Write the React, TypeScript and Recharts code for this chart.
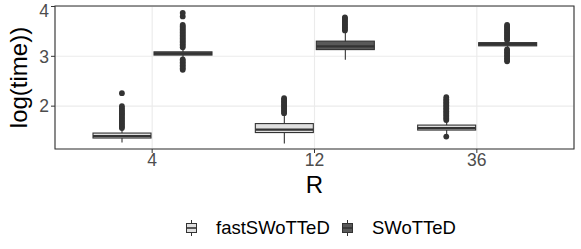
import {
  ComposedChart,
  Bar,
  Scatter,
  XAxis,
  YAxis,
  CartesianGrid,
  ReferenceArea,
  Legend,
} from "recharts";

const categories = ["4", "12", "36"];
const seriesNames = ["fastSWoTTeD", "SWoTTeD"];
const yTicks = [2, 3, 4];

// box statistics per R
const fastLow = [1.27, 1.25, 1.44];
const fastQ1 = [1.36, 1.47, 1.52];
const fastMedian = [1.4, 1.53, 1.56];
const fastQ3 = [1.46, 1.65, 1.62];
const fastHigh = [1.52, 1.83, 1.7];

const swotLow = [2.96, 2.93, 3.17];
const swotQ1 = [3.025, 3.135, 3.21];
const swotMedian = [3.055, 3.2, 3.245];
const swotQ3 = [3.09, 3.305, 3.275];
const swotHigh = [3.15, 3.5, 3.31];

// outliers per R
const fastOutliers = [
  [1.56, 1.59, 1.62, 1.65, 1.68, 1.71, 1.74, 1.77, 1.8, 1.83, 1.86, 1.89, 1.92, 1.96, 2.0, 2.26],
  [1.86, 1.89, 1.92, 1.95, 1.98, 2.01, 2.04, 2.07, 2.1, 2.13, 2.16],
  [1.39, 1.72, 1.75, 1.78, 1.81, 1.84, 1.87, 1.9, 1.93, 1.96, 1.99, 2.02, 2.05, 2.08, 2.11, 2.14, 2.18],
];
const swotOutliers = [
  [2.73, 2.76, 2.79, 2.82, 2.85, 2.88, 2.91, 2.94, 3.18, 3.21, 3.24, 3.27, 3.3, 3.33, 3.36, 3.39, 3.42, 3.45, 3.48, 3.51, 3.54, 3.57, 3.6, 3.63, 3.8, 3.87],
  [3.52, 3.55, 3.58, 3.61, 3.64, 3.67, 3.7, 3.73, 3.76, 3.78],
  [2.9, 2.93, 2.96, 2.99, 3.02, 3.05, 3.08, 3.11, 3.14, 3.33, 3.36, 3.39, 3.42, 3.45, 3.48, 3.51, 3.54, 3.57, 3.6, 3.63],
];

const FAST_FILL = "#E0E0E0";
const SWOT_FILL = "#595959";
const INK = "#333333";
const DODGE = 0.1875;
const Y_DOMAIN = [1.14, 4.01];

const table = categories.map((c, i) => ({
  cat: c,
  fastRange: [fastLow[i], fastHigh[i]],
  swotRange: [swotLow[i], swotHigh[i]],
  fast: { low: fastLow[i], q1: fastQ1[i], median: fastMedian[i], q3: fastQ3[i], high: fastHigh[i] },
  swot: { low: swotLow[i], q1: swotQ1[i], median: swotMedian[i], q3: swotQ3[i], high: swotHigh[i] },
}));

const outlierPoints = categories.flatMap((_, i) => [
  ...fastOutliers[i].map((v) => ({ x: i + 1 - DODGE, y: v })),
  ...swotOutliers[i].map((v) => ({ x: i + 1 + DODGE, y: v })),
]);

// the bar rect spans the whiskers; the rest is placed on the same linear scale
const BoxGlyph = (props: any) => {
  const { x, y, width, height, stats, fill } = props;
  if (!stats) return null;
  const top = Math.min(y, y + height);
  const bottom = Math.max(y, y + height);
  const toPx = (v: number) => bottom - ((v - stats.low) / (stats.high - stats.low)) * (bottom - top);
  const cx = x + width / 2;
  return (
    <g>
      <line x1={cx} x2={cx} y1={toPx(stats.high)} y2={toPx(stats.low)} stroke={INK} strokeWidth={1.1} />
      <rect
        x={x}
        y={toPx(stats.q3)}
        width={width}
        height={toPx(stats.q1) - toPx(stats.q3)}
        fill={fill}
        stroke={INK}
        strokeWidth={1.1}
      />
      <line x1={x} x2={x + width} y1={toPx(stats.median)} y2={toPx(stats.median)} stroke={INK} strokeWidth={2.2} />
    </g>
  );
};

const OutlierDot = (props: any) => <circle cx={props.cx} cy={props.cy} r={2.9} fill={INK} />;

const XTick = (props: any) => (
  <text x={props.x} y={props.y} dy="0.71em" textAnchor="middle" fontSize={17.5} fill="#4D4D4D">
    {props.payload.value}
  </text>
);

const YTitle = (props: any) => {
  const vb = props.viewBox || { x: 0, y: 6, width: 55, height: 143 };
  const cy = vb.y + vb.height / 2;
  return (
    <text x={27} y={cy} transform={`rotate(-90, 27, ${cy})`} textAnchor="middle" fontSize={24} fill="#000">
      log(time))
    </text>
  );
};

const XTitle = (props: any) => {
  const vb = props.viewBox || { x: 55, y: 149, width: 519, height: 62 };
  return (
    <text x={vb.x + vb.width / 2} y={193} textAnchor="middle" fontSize={24} fill="#000">
      R
    </text>
  );
};

const KeyGlyph = ({ fill }: { fill: string }) => (
  <svg width={11} height={16} style={{ display: "block" }}>
    <line x1={5.5} x2={5.5} y1={0} y2={16} stroke={INK} strokeWidth={1} />
    <rect x={0.5} y={3.5} width={10} height={9} fill={fill} stroke={INK} strokeWidth={1} />
    <line x1={0.5} x2={10.5} y1={8} y2={8} stroke={INK} strokeWidth={1.6} />
  </svg>
);

const LegendBox = () => {
  const item = (left: number) => ({
    position: "absolute" as const,
    left,
    top: 0,
    height: 34,
    display: "flex",
    alignItems: "center",
  });
  return (
    <div style={{ position: "relative", width: 581, height: 34, fontSize: 18.5, color: "#000" }}>
      <div style={item(186)}>
        <KeyGlyph fill={FAST_FILL} />
      </div>
      <div style={item(216)}>{seriesNames[0]}</div>
      <div style={item(342)}>
        <KeyGlyph fill={SWOT_FILL} />
      </div>
      <div style={item(372)}>{seriesNames[1]}</div>
    </div>
  );
};

const tickStyle = { fill: "#4D4D4D", stroke: "none", fontSize: 17.5 };

export default function App() {
  return (
    <div
      style={{
        position: "absolute",
        left: 0,
        top: 0,
        width: 581,
        height: 249,
        background: "#fff",
        fontFamily: "'Liberation Sans', Arial, Helvetica, sans-serif",
      }}
    >
      <ComposedChart
        width={581}
        height={249}
        data={table}
        margin={{ top: 6, right: 7, bottom: 4, left: 0 }}
        barGap={3}
        barSize={58}
      >
        <CartesianGrid xAxisId="cat" stroke="#EBEBEB" strokeWidth={1.1} />
        <XAxis
          xAxisId="cat"
          dataKey="cat"
          type="category"
          padding={{ left: 16, right: 16 }}
          height={62}
          axisLine={false}
          tickLine={{ stroke: INK }}
          tickSize={4}
          tickMargin={1}
          tick={<XTick />}
          label={<XTitle />}
        />
        <XAxis xAxisId="num" dataKey="x" type="number" domain={[0.4, 3.6]} allowDataOverflow hide />
        <YAxis
          type="number"
          domain={Y_DOMAIN}
          ticks={yTicks}
          allowDataOverflow
          width={55}
          axisLine={false}
          tickLine={{ stroke: INK }}
          tickSize={4}
          tickMargin={2}
          tick={tickStyle}
          label={<YTitle />}
        />
        <Bar
          xAxisId="cat"
          dataKey="fastRange"
          name={seriesNames[0]}
          isAnimationActive={false}
          shape={(p: any) => <BoxGlyph {...p} stats={p.payload.fast} fill={FAST_FILL} />}
        />
        <Bar
          xAxisId="cat"
          dataKey="swotRange"
          name={seriesNames[1]}
          isAnimationActive={false}
          shape={(p: any) => <BoxGlyph {...p} stats={p.payload.swot} fill={SWOT_FILL} />}
        />
        <Scatter
          xAxisId="num"
          data={outlierPoints}
          dataKey="y"
          isAnimationActive={false}
          shape={<OutlierDot />}
        />
        <ReferenceArea
          xAxisId="num"
          x1={0.4}
          x2={3.6}
          y1={Y_DOMAIN[0]}
          y2={Y_DOMAIN[1]}
          fill="none"
          stroke={INK}
          strokeWidth={1.1}
          ifOverflow="visible"
        />
        <Legend
          verticalAlign="bottom"
          content={<LegendBox />}
          wrapperStyle={{ left: 0, bottom: 4, width: 581, height: 34 }}
        />
      </ComposedChart>
    </div>
  );
}
